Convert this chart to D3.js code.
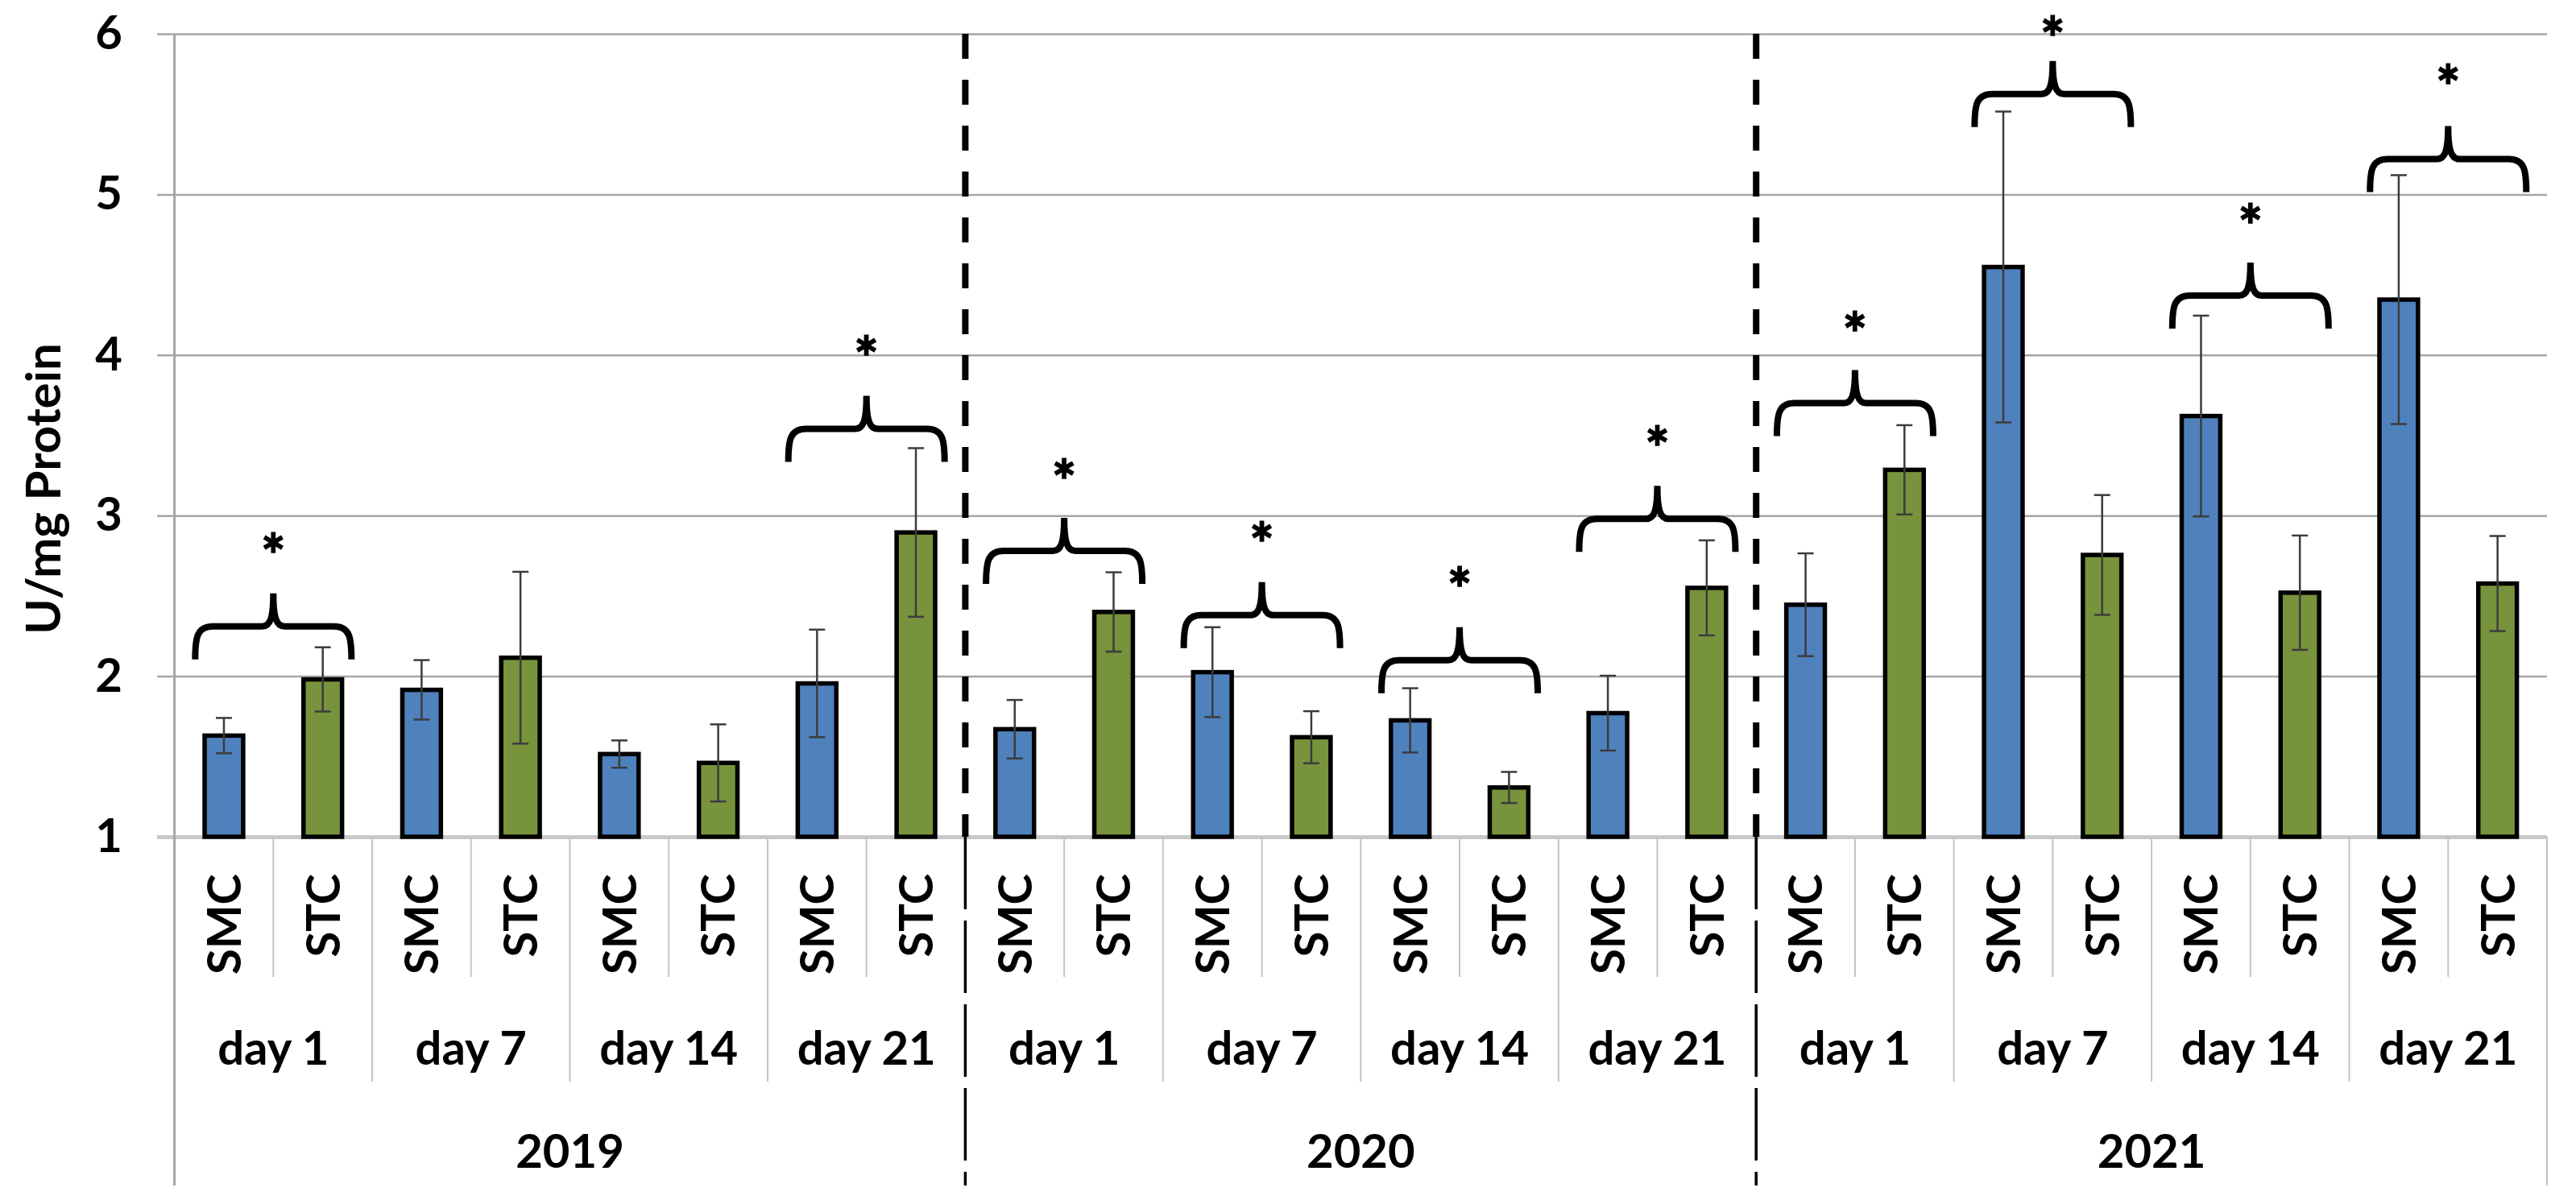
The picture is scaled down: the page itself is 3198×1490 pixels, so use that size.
<!DOCTYPE html>
<html>
<head>
<meta charset="utf-8">
<script src="https://cdn.jsdelivr.net/npm/d3@7"></script>
<style>
  html, body { margin: 0; padding: 0; background: #ffffff; }
  svg { display: block; }
  text { font-family: Lato, "Open Sans", "DejaVu Sans", sans-serif; font-weight: 700; fill: #000; }
</style>
</head>
<body>
<svg id="chart" width="3198" height="1490"></svg>
<script>
// ---------------- data ----------------
const years = ["2019", "2020", "2021"];
const days = ["day 1", "day 7", "day 14", "day 21"];
const groups = ["SMC", "STC"];
const yTicks = [1, 2, 3, 4, 5, 6];
const yTitle = "U/mg Protein";

// one value per (year, day), in order 2019 d1..d21, 2020 d1..d21, 2021 d1..d21
const smcMean = [1.63, 1.915, 1.515, 1.955, 1.67, 2.025, 1.725, 1.77, 2.445, 4.548, 3.62, 4.345];
const smcErr  = [0.11, 0.185, 0.085, 0.335, 0.182, 0.28, 0.20, 0.233, 0.32, 0.968, 0.625, 0.775];
const stcMean = [1.98, 2.115, 1.46, 2.895, 2.40, 1.62, 1.307, 2.55, 3.285, 2.755, 2.52, 2.577];
const stcErr  = [0.20, 0.535, 0.24, 0.525, 0.247, 0.162, 0.097, 0.296, 0.278, 0.373, 0.356, 0.296];

// significance braces: day-group index, value of the brace bar, value of the star centre
const sigGroup = [0, 3, 4, 5, 6, 7, 8, 9, 10, 11];
const sigLevel = [2.31, 3.54, 2.78, 2.38, 2.10, 2.98, 3.70, 5.625, 4.37, 5.22];
const sigStar  = [2.82, 4.05, 3.28, 2.89, 2.61, 3.49, 4.20, 6.04, 4.87, 5.74];
const sigMark = "*";

(function () {
// ---------------- layout ----------------
const W = 3198, H = 1490;
const pLeft = 216.6, pRight = 3162, pTop = 42, pBase = 1039, pBottom = 1472;
const svg = d3.select("#chart");
svg.append("rect").attr("width", W).attr("height", H).attr("fill", "#fff");

// categories
const cats = [];
years.forEach((yr, yi) => days.forEach((d, di) => groups.forEach((g, gi) => {
  const gIdx = yi * days.length + di;
  const mean = gi === 0 ? smcMean[gIdx] : stcMean[gIdx];
  const err = gi === 0 ? smcErr[gIdx] : stcErr[gIdx];
  cats.push({ key: yr + "|" + d + "|" + g, year: yr, day: d, group: g, gIdx, mean, err });
})));

const x = d3.scaleBand().domain(cats.map(c => c.key)).range([pLeft, pRight]).padding(0);
const y = d3.scaleLinear().domain([1, 6]).range([pBase, pTop]);
const bw = x.bandwidth();
const barW = bw * 0.39;

// ---------------- y axis / grid ----------------
const gridStart = 195;
const yAxis = d3.axisLeft(y).tickValues(yTicks).tickFormat(d3.format("d"))
  .tickSize(-(pRight - gridStart)).tickPadding(gridStart - 152);
const ga = svg.append("g").attr("transform", `translate(${gridStart},0)`).call(yAxis);
ga.select(".domain").remove();
ga.selectAll(".tick line").attr("stroke", "#a6a6a6").attr("stroke-width", 2.5);
ga.selectAll(".tick").filter(d => d === 1).select("line").attr("stroke", "#c8c8c8").attr("stroke-width", 5);
ga.selectAll(".tick text").attr("font-size", 58).attr("fill", "#000")
  .style("font-family", "Lato, 'Open Sans', sans-serif").style("font-weight", 700);

// vertical axis line
svg.append("line").attr("x1", pLeft).attr("x2", pLeft).attr("y1", pTop).attr("y2", pBottom)
  .attr("stroke", "#a6a6a6").attr("stroke-width", 3);

// y title
svg.append("text").attr("transform", "translate(75,607) rotate(-90)")
  .attr("text-anchor", "middle").attr("font-size", 60).text(yTitle);

// ---------------- bars ----------------
const color = { SMC: "#4f81bd", STC: "#77933c" };
svg.append("g").selectAll("rect").data(cats).join("rect")
  .attr("x", d => x(d.key) + (bw - barW) / 2)
  .attr("y", d => y(d.mean))
  .attr("width", barW)
  .attr("height", d => y(1) - y(d.mean))
  .attr("fill", d => color[d.group])
  .attr("stroke", "#000").attr("stroke-width", 5.5);

// error bars
const eg = svg.append("g").attr("stroke", "#3c3c3c").attr("stroke-width", 2.5);
const capW = 10;
cats.forEach(d => {
  const cx = x(d.key) + bw / 2;
  const y1 = y(d.mean + d.err), y2 = y(d.mean - d.err);
  eg.append("line").attr("x1", cx).attr("x2", cx).attr("y1", y1).attr("y2", y2);
  eg.append("line").attr("x1", cx - capW).attr("x2", cx + capW).attr("y1", y1).attr("y2", y1);
  eg.append("line").attr("x1", cx - capW).attr("x2", cx + capW).attr("y1", y2).attr("y2", y2);
});

// ---------------- x labels ----------------
const lab = svg.append("g");
lab.selectAll("text.grp").data(cats).join("text").attr("class", "grp")
  .attr("transform", d => `translate(${x(d.key) + bw / 2},1085) rotate(-90)`)
  .attr("text-anchor", "end").attr("dy", "0.36em").attr("font-size", 58).text(d => d.group);

const dayGroups = [];
years.forEach(yr => days.forEach(d => dayGroups.push({ year: yr, day: d })));
lab.selectAll("text.day").data(dayGroups).join("text").attr("class", "day")
  .attr("x", d => x(d.year + "|" + d.day + "|SMC") + bw)
  .attr("y", 1322).attr("text-anchor", "middle").attr("font-size", 58).text(d => d.day);

lab.selectAll("text.yr").data(years).join("text").attr("class", "yr")
  .attr("x", d => (x(d + "|" + days[0] + "|SMC") + x(d + "|" + days[days.length - 1] + "|STC") + bw) / 2)
  .attr("y", 1450).attr("text-anchor", "middle").attr("font-size", 58).text(d => d);

// separators
const sep = svg.append("g").attr("stroke", "#c4c4c4").attr("stroke-width", 2);
cats.forEach((d, i) => {
  if (i === 0) return;
  const xx = x(d.key);
  let y2 = null;
  if (d.group === "STC") y2 = 1213;
  else if (d.day !== days[0]) y2 = 1343;
  if (y2) sep.append("line").attr("x1", xx).attr("x2", xx).attr("y1", pBase).attr("y2", y2);
});
sep.append("line").attr("x1", pRight).attr("x2", pRight).attr("y1", pBase).attr("y2", pBottom);

// year dividers (dashed)
years.slice(1).forEach(yr => {
  const xx = x(yr + "|" + days[0] + "|SMC");
  svg.append("line").attr("x1", xx).attr("x2", xx).attr("y1", pTop).attr("y2", pBase)
    .attr("stroke", "#000").attr("stroke-width", 8).attr("stroke-dasharray", "31 26");
  svg.append("line").attr("x1", xx).attr("x2", xx).attr("y1", pBase).attr("y2", pBottom)
    .attr("stroke", "#000").attr("stroke-width", 3.5).attr("stroke-dasharray", "90 14");
});

// ---------------- braces & stars ----------------
const bg = svg.append("g").attr("fill", "none").attr("stroke", "#000").attr("stroke-width", 8);
const starSize = 72;
sigGroup.forEach((gi, k) => {
  const c = cats[gi * 2];
  const cx = x(c.key) + bw;
  const yb = y(sigLevel[k]);
  const hw = 97, drop = 41, rise = 41;
  const p = d3.path();
  p.moveTo(cx - hw, yb + drop);
  p.bezierCurveTo(cx - hw, yb + 14, cx - hw + 2, yb, cx - hw + 22, yb);
  p.lineTo(cx - 14, yb);
  p.bezierCurveTo(cx - 4, yb, cx, yb - 10, cx, yb - rise);
  p.bezierCurveTo(cx, yb - 10, cx + 4, yb, cx + 14, yb);
  p.lineTo(cx + hw - 22, yb);
  p.bezierCurveTo(cx + hw - 2, yb, cx + hw, yb + 14, cx + hw, yb + drop);
  bg.append("path").attr("d", p.toString());
  svg.append("text").attr("x", cx).attr("y", y(sigStar[k]) + starSize * 0.57)
    .attr("text-anchor", "middle").attr("font-size", starSize).attr("font-weight", 900)
    .attr("stroke", "#000").attr("stroke-width", 1.5).text(sigMark);
});
})();
</script>
</body>
</html>
